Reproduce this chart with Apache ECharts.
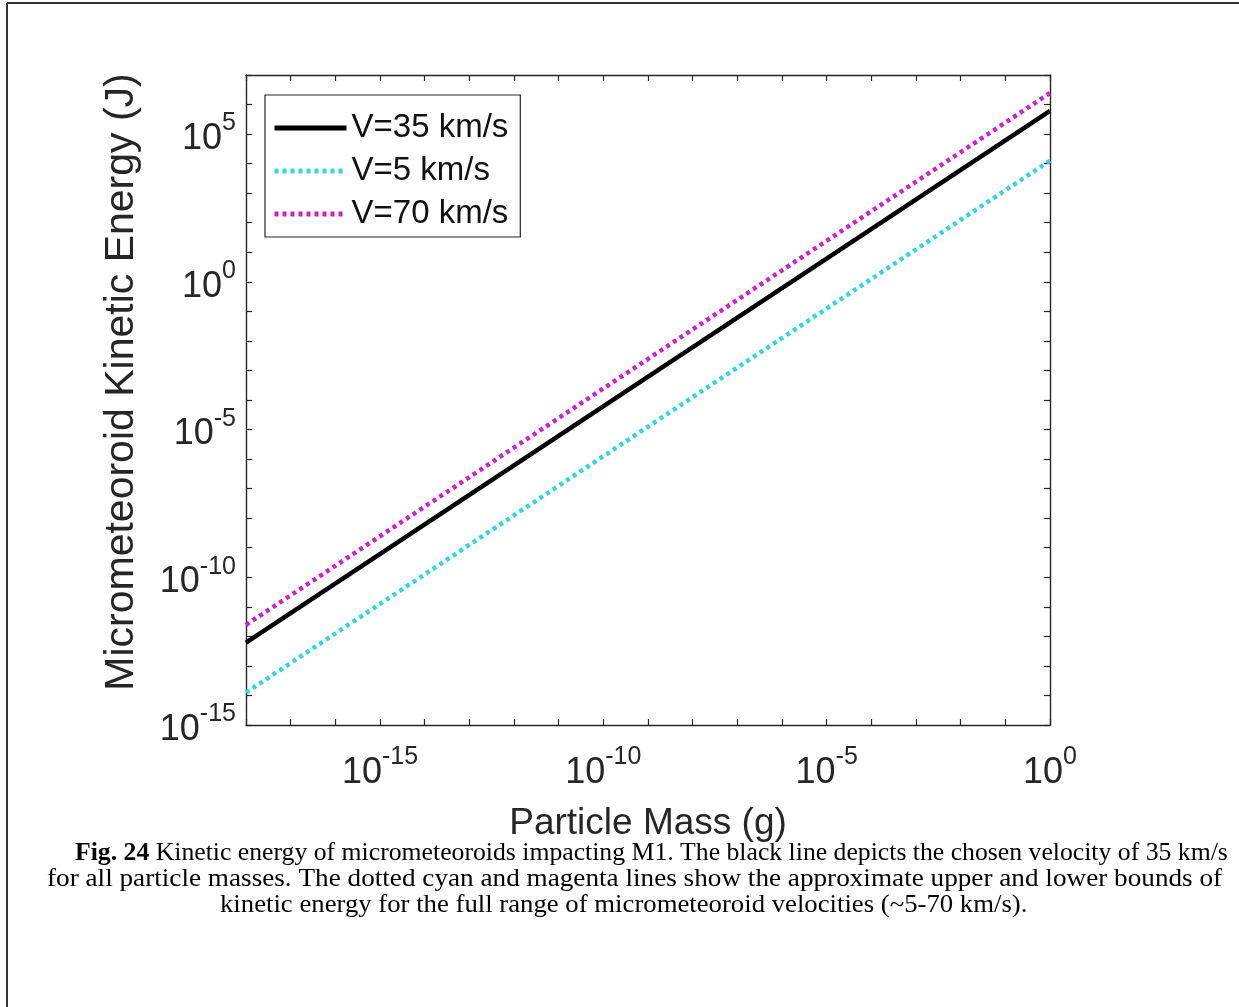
<!DOCTYPE html>
<html>
<head>
<meta charset="utf-8">
<script src="https://cdn.jsdelivr.net/npm/echarts@6/dist/echarts.min.js"></script>
<style>
html,body{margin:0;padding:0;background:#fff;}
#chart{width:1239px;height:1007px;}
</style>
</head>
<body>
<div id="chart"></div>
<script>
// ---- data ----
const massRange = [1e-18, 1e0];          // Particle Mass (g), line end points
const ke35 = [6.1e-13, 6.1e5];           // V=35 km/s
const ke5 = [1.25e-14, 1.25e4];          // V=5 km/s
const ke70 = [2.45e-12, 2.45e6];         // V=70 km/s
const seriesNames = ['V=35 km/s', 'V=5 km/s', 'V=70 km/s'];
const xLabelExps = [-15, -10, -5, 0];
const yLabelExps = [-15, -10, -5, 0, 5];
const captionLines = [
  'Kinetic energy of micrometeoroids impacting M1. The black line depicts the chosen velocity of 35 km/s',
  'for all particle masses. The dotted cyan and magenta lines show the approximate upper and lower bounds of',
  'kinetic energy for the full range of micrometeoroid velocities (~5-70 km/s).'
];

const AX = '#262626';
const FONT = 'Liberation Sans, Arial, sans-serif';
function pairs(xs, ys){ return xs.map((x,i)=>[x, ys[i]]); }
function labelFmt(allowed){
  return function(v){
    const e = Math.round(Math.log10(v));
    if (allowed.indexOf(e) < 0) return '';
    return '{b|10}{s|' + e + '}';
  };
}
const rich = {
  b: {fontSize: 36, fontFamily: FONT, color: AX, lineHeight: 46, verticalAlign: 'bottom'},
  s: {fontSize: 25, fontFamily: FONT, color: AX, lineHeight: 46, verticalAlign: 'top'}
};
const tickCommon = {show: true, inside: true, length: 6, lineStyle: {color: AX, width: 1.2}};
const lineCommon = {show: true, lineStyle: {color: AX, width: 1.4}};
const serif = 'Liberation Serif, Times New Roman, serif';

const chart = echarts.init(document.getElementById('chart'), null, {renderer: 'canvas'});
chart.setOption({
  animation: false,
  backgroundColor: '#fff',
  grid: {left: 246, top: 75, right: 189, bottom: 282, containLabel: false},
  xAxis: [{
    type: 'log', logBase: 10, min: 1e-18, max: 1, interval: 1, splitNumber: 18,
    position: 'bottom',
    axisLine: lineCommon, axisTick: tickCommon, splitLine: {show: false},
    axisLabel: {formatter: labelFmt(xLabelExps), rich: rich, margin: 20, showMinLabel: true, showMaxLabel: true},
    name: 'Particle Mass (g)', nameLocation: 'middle', nameGap: 80,
    nameTextStyle: {fontSize: 37, fontFamily: FONT, color: AX}
  }, {
    type: 'log', logBase: 10, min: 1e-18, max: 1, interval: 1, splitNumber: 18,
    position: 'top',
    axisLine: lineCommon, axisTick: tickCommon, splitLine: {show: false},
    axisLabel: {show: false}
  }],
  yAxis: [{
    type: 'log', logBase: 10, min: 1e-15, max: 1e7, interval: 1, splitNumber: 22,
    position: 'left',
    axisLine: lineCommon, axisTick: tickCommon, splitLine: {show: false},
    axisLabel: {formatter: labelFmt(yLabelExps), rich: rich, margin: 10, showMinLabel: true},
    name: 'Micrometeoroid Kinetic Energy (J)', nameLocation: 'middle', nameGap: 104, nameRotate: 90,
    nameTextStyle: {fontSize: 41, fontFamily: FONT, color: AX, padding: [0, 0, 0, 36]}
  }, {
    type: 'log', logBase: 10, min: 1e-15, max: 1e7, interval: 1, splitNumber: 22,
    position: 'right',
    axisLine: lineCommon, axisTick: tickCommon, splitLine: {show: false},
    axisLabel: {show: false}
  }],
  legend: {
    orient: 'vertical', left: 265, top: 95,
    padding: [15, 12, 5, 7],
    itemWidth: 72, itemHeight: 14, itemGap: 7, itemTextGap: 5,
    backgroundColor: '#fff', borderColor: AX, borderWidth: 1.2,
    itemStyle: {opacity: 0},
    lineStyle: {width: 5},
    textStyle: {fontSize: 33, fontFamily: FONT, color: '#111', lineHeight: 36},
    data: seriesNames
  },
  series: [
    {name: seriesNames[0], type: 'line', symbol: 'none', data: pairs(massRange, ke35),
     lineStyle: {color: '#000', width: 4.5}, itemStyle: {color: '#000'}, z: 3},
    {name: seriesNames[1], type: 'line', symbol: 'none', data: pairs(massRange, ke5),
     lineStyle: {color: '#2fd8e0', width: 4.5, type: [4, 4]}, itemStyle: {color: '#2fd8e0'}, z: 2},
    {name: seriesNames[2], type: 'line', symbol: 'none', data: pairs(massRange, ke70),
     lineStyle: {color: '#cf1fd2', width: 4.5, type: [4, 4]}, itemStyle: {color: '#cf1fd2'}, z: 2}
  ],
  graphic: [
    {type: 'line', shape: {x1: 7, y1: 3, x2: 1239, y2: 3}, style: {stroke: '#333', lineWidth: 2}},
    {type: 'line', shape: {x1: 7, y1: 3, x2: 7, y2: 1007}, style: {stroke: '#333', lineWidth: 2}},
    {type: 'text', x: 75, y: 840, scaleX: 0.989, style: {
      text: '{b|Fig. 24}{n|\u00a0' + captionLines[0] + '}',
      verticalAlign: 'top',
      rich: {b: {fontFamily: serif, fontWeight: 'bold', fontSize: 26, fill: '#000'},
             n: {fontFamily: serif, fontSize: 26, fill: '#000'}}
    }},
    {type: 'text', x: 47, y: 866, scaleX: 1.046, style: {text: captionLines[1], verticalAlign: 'top', font: '26px ' + serif, fill: '#000'}},
    {type: 'text', x: 220, y: 892, scaleX: 1.028, style: {text: captionLines[2], verticalAlign: 'top', font: '26px ' + serif, fill: '#000'}}
  ]
});
</script>
</body>
</html>
